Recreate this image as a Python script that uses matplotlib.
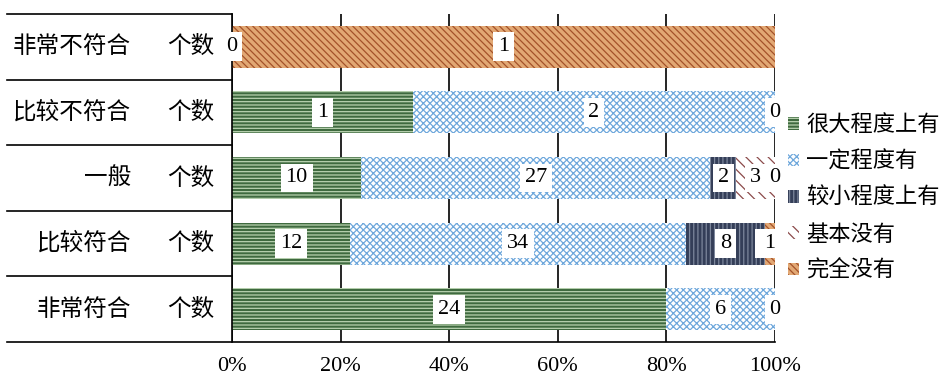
import matplotlib.pyplot as plt
import numpy as np
from matplotlib.patches import Patch

plt.rcParams["font.family"] = ["Noto Sans CJK SC", "DejaVu Sans"]
plt.rcParams["hatch.linewidth"] = 0.9

groups = ["非常不符合", "比较不符合", "一般", "比较符合", "非常符合"]
series = ["很大程度上有", "一定程度有", "较小程度上有", "基本没有", "完全没有"]
counts = np.array([
    [0, 0, 0, 0, 1],
    [1, 2, 0, 0, 0],
    [10, 27, 2, 3, 0],
    [12, 34, 8, 0, 1],
    [24, 6, 0, 0, 0],
])
xticks = ["0%", "20%", "40%", "60%", "80%", "100%"]

styles = [
    dict(facecolor="#3f6a3f", edgecolor="#b9d2b0", hatch="-----"),
    dict(facecolor="white", edgecolor="#6fa8dc", hatch="xxxxx"),
    dict(facecolor="#343e58", edgecolor="#7d879c", hatch="||||"),
    dict(facecolor="white", edgecolor="#8b4a4a", hatch="\\\\\\"),
    dict(facecolor="#e2a874", edgecolor="#a4522a", hatch="\\\\\\\\\\"),
]

fig = plt.figure(figsize=(9.49, 3.76), dpi=100)
ax = fig.add_axes([232 / 949, 1 - 342 / 376, 543 / 949, 328 / 376])

frac = counts / counts.sum(axis=1, keepdims=True)
lefts = np.cumsum(frac, axis=1) - frac
ypos = np.arange(len(groups))

for j, name in enumerate(series):
    ax.barh(ypos, frac[:, j], left=lefts[:, j], height=0.64, linewidth=0,
            label=name, zorder=2, **styles[j])

# value labels sit at the middle of each segment, zeros land on the boundary
for i in range(len(groups)):
    for j in range(len(series)):
        x = lefts[i, j] + frac[i, j] / 2
        ax.text(x, ypos[i], str(counts[i, j]), ha="center", va="center",
                family="Liberation Serif", fontsize=16, zorder=5 + j,
                bbox=dict(facecolor="white", edgecolor="none", pad=3.5))

ax.set_xlim(0, 1)
ax.set_ylim(len(groups) - 0.5, -0.5)
ax.set_xticks(np.linspace(0, 1, 6))
ax.set_xticklabels(xticks, family="Liberation Serif", fontsize=16)
ax.tick_params(axis="x", length=0, pad=11)
ax.set_yticks([])
ax.grid(axis="x", color="black", linewidth=1.2)
ax.set_axisbelow(True)
for side in ["top", "right", "bottom"]:
    ax.spines[side].set_visible(False)
ax.spines["left"].set_linewidth(1.2)

# category table on the left
xl = (7 - 232) / 543
trans = ax.get_yaxis_transform()
for k in range(len(groups)):
    ax.plot([xl, 0], [k - 0.5, k - 0.5], color="black", lw=1.2,
            transform=trans, clip_on=False)
ax.plot([xl, 1], [len(groups) - 0.5] * 2, color="black", lw=1.2,
        transform=trans, clip_on=False)
for k, g in enumerate(groups):
    ax.text((131 - 232) / 543, k, g, ha="right", va="center", fontsize=17,
            transform=trans)
    ax.text((214 - 232) / 543, k, "个数", ha="right", va="center", fontsize=17,
            transform=trans)

handles = [Patch(label=name, linewidth=0, **styles[j]) for j, name in enumerate(series)]
ax.legend(handles=handles, loc="center left", bbox_to_anchor=(1.0, 0.44),
          frameon=False, fontsize=16, handlelength=0.5, handleheight=0.5,
          handletextpad=0.3, labelspacing=0.6, borderaxespad=0.2)

fig.savefig("out.png", dpi=100)
